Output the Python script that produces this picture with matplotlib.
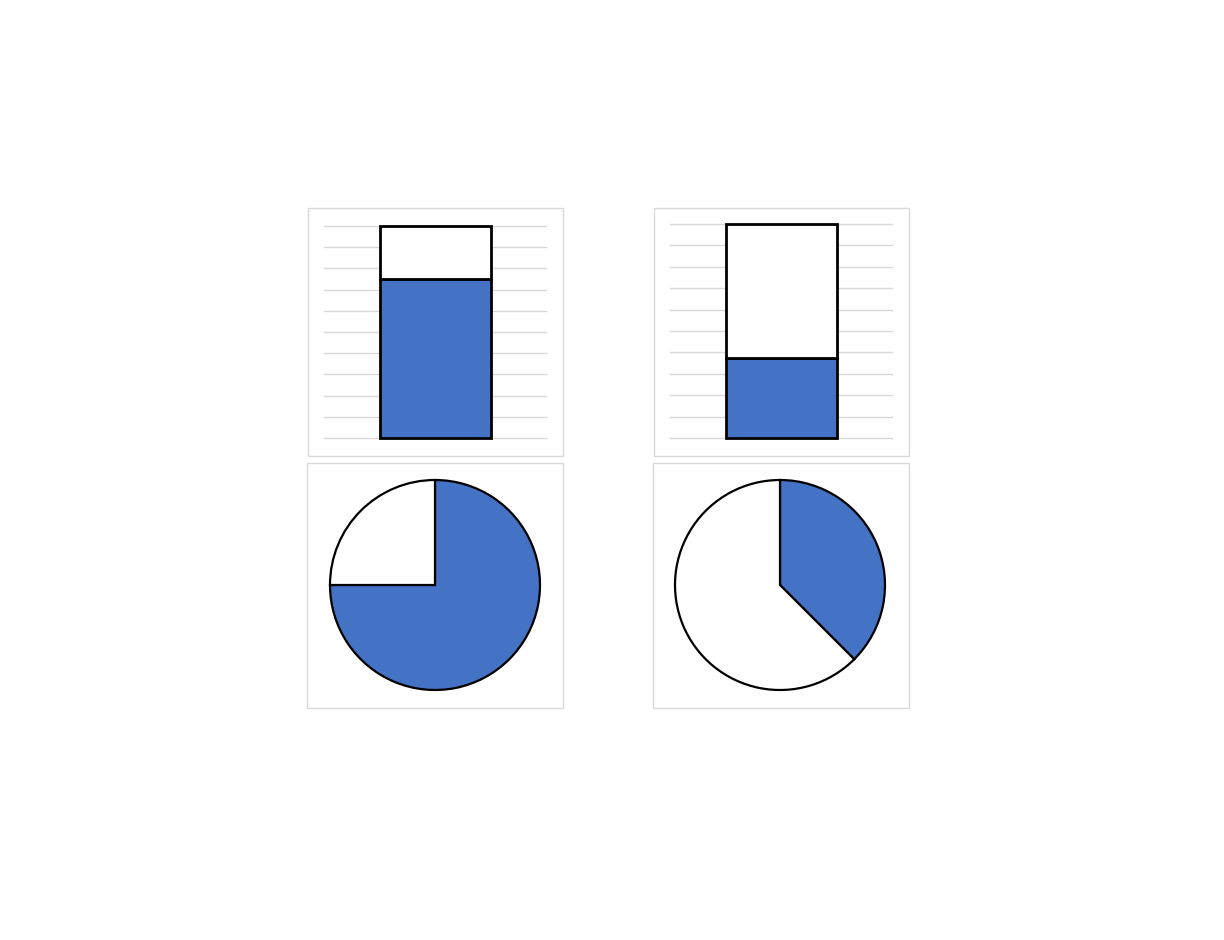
import matplotlib.pyplot as plt
from matplotlib.patches import Rectangle

# share values (percent) for the two comparisons
filled = [75, 37.5]
empty = [25, 62.5]
ticks = list(range(0, 101, 10))

BLUE = '#4472c4'
W, H = 1224, 940

fig = plt.figure(figsize=(12.24, 9.4), dpi=100)


def fig_box(x0, y0, x1, y1):
    # pixel box (top-left origin) -> figure rect
    return [x0 / W, 1 - y1 / H, (x1 - x0) / W, (y1 - y0) / H]


# light panel frames
for (x0, y0, x1, y1) in [(308, 208, 563, 456), (654, 208, 909, 456),
                         (307, 463, 563, 708), (653, 463, 909, 708)]:
    l, b, w, h = fig_box(x0, y0, x1, y1)
    fig.add_artist(Rectangle((l, b), w, h, transform=fig.transFigure,
                             fill=False, edgecolor='#d9d9d9', lw=1))

# stacked bars
bar_boxes = [(324, 226, 546, 438), (670, 224, 892, 438)]
for i, box in enumerate(bar_boxes):
    ax = fig.add_axes(fig_box(*box))
    ax.set_xlim(-1, 1)
    ax.set_ylim(0, 100)
    for t in ticks:
        ax.axhline(t, color='#d9d9d9', lw=1, zorder=0, clip_on=False)
    ax.bar(0, filled[i], width=1.0, color=BLUE, edgecolor='black', lw=2,
           zorder=2, clip_on=False)
    ax.bar(0, empty[i], bottom=filled[i], width=1.0, color='white',
           edgecolor='black', lw=2, zorder=2, clip_on=False)
    ax.axis('off')

# pies
pie_boxes = [(330, 480, 540, 690), (675, 480, 885, 690)]
for i, box in enumerate(pie_boxes):
    ax = fig.add_axes(fig_box(*box))
    ax.pie([filled[i], empty[i]], colors=[BLUE, 'white'], startangle=90,
           counterclock=False, radius=1,
           wedgeprops=dict(edgecolor='black', linewidth=1.6))
    ax.set_xlim(-1.0, 1.0)
    ax.set_ylim(-1.0, 1.0)
    ax.set_aspect('equal')
    ax.axis('off')

fig.savefig('out.png', dpi=100)
